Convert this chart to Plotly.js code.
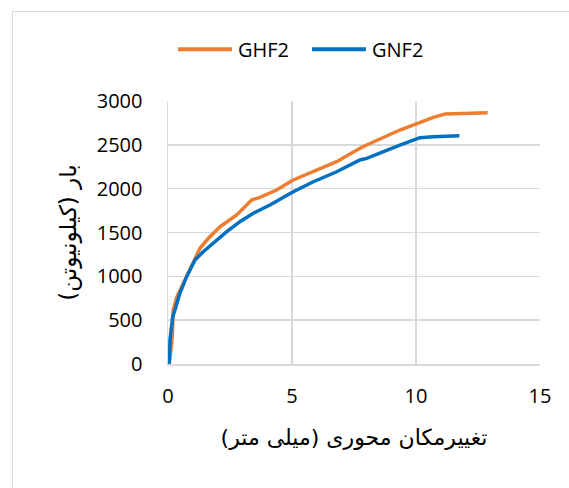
<!DOCTYPE html>
<html>
<head>
<meta charset="utf-8">
<script src="https://cdn.plot.ly/plotly-3.0.1.min.js"></script>
<style>
  html, body { margin:0; padding:0; background:#fff; overflow:hidden; }
  #chart { width:569px; height:488px; }
  #frame { position:absolute; left:12px; top:11px; width:620px; height:540px; border:1px solid #d9d9d9; pointer-events:none; }
</style>
</head>
<body>
<div id="chart"></div>
<div id="frame"></div>
<script>
// Data
const ghf2X = [0, 0.05, 0.15, 0.18, 0.21, 0.35, 0.62, 1.02, 1.29, 1.63, 2.10, 2.77, 3.37, 3.71, 4.38, 5.05, 5.86, 6.80, 7.74, 8.01, 9.35, 10.70, 11.17, 12.89];
const ghf2Y = [0, 8, 236, 350, 616, 760, 920, 1148, 1320, 1434, 1566, 1700, 1871, 1901, 1985, 2099, 2193, 2308, 2460, 2498, 2669, 2814, 2852, 2867];
const gnf2X = [0, 0.05, 0.08, 0.19, 0.28, 0.48, 0.75, 1.09, 1.42, 1.96, 2.37, 2.90, 3.44, 4.11, 5.05, 5.86, 6.80, 7.74, 8.01, 9.35, 10.16, 10.70, 11.75];
const gnf2Y = [0, 8, 274, 540, 616, 806, 996, 1186, 1281, 1414, 1509, 1623, 1719, 1814, 1965, 2079, 2193, 2327, 2346, 2498, 2582, 2593, 2604];
const seriesNames = ["GHF2", "GNF2"];
const seriesColors = ['#ED7D31', '#0070C0'];
const xTitle = "تغییرمکان محوری (میلی متر)";
const yTitle = "بار (کیلونیوتن)";

const traces = [
  {x: ghf2X, y: ghf2Y, name: seriesNames[0], type: 'scatter', mode: 'lines',
   line: {color: seriesColors[0], width: 3.5}},
  {x: gnf2X, y: gnf2Y, name: seriesNames[1], type: 'scatter', mode: 'lines',
   line: {color: seriesColors[1], width: 3.5}}
];

// Legend drawn at the top (long line samples as in the reference)
const legY = 1.197;
const legItems = [{x0: 0.027, x1: 0.172, tx: 0.183}, {x0: 0.387, x1: 0.532, tx: 0.543}];
const shapes = legItems.map((it, i) => ({
  type: 'line', xref: 'paper', yref: 'paper', x0: it.x0, x1: it.x1, y0: legY, y1: legY,
  line: {color: seriesColors[i], width: 4}
}));
const annotations = legItems.map((it, i) => ({
  xref: 'paper', yref: 'paper', x: it.tx, y: legY, xanchor: 'left', yanchor: 'middle',
  text: seriesNames[i], showarrow: false, font: {size: 20, color: '#000'}
}));

const gridC = '#d9d9d9';
const layout = {
  width: 569, height: 488,
  margin: {l: 168, r: 29, t: 101, b: 124},
  paper_bgcolor: '#fff', plot_bgcolor: '#fff',
  font: {family: 'Open Sans, sans-serif', size: 20, color: '#000'},
  showlegend: false,
  shapes: shapes,
  annotations: annotations,
  xaxis: {
    range: [0, 15], dtick: 5, tick0: 0,
    showgrid: true, gridcolor: gridC, gridwidth: 1.5,
    zeroline: false, showline: true, linecolor: gridC, linewidth: 1.5,
    ticks: 'outside', ticklen: 13, tickcolor: 'rgba(0,0,0,0)',
    tickfont: {size: 20, color: '#000'},
    title: {text: xTitle, font: {family: 'DejaVu Sans', size: 22, color: '#000'}, standoff: 22},
    automargin: false, fixedrange: true
  },
  yaxis: {
    range: [0, 3000], dtick: 500, tick0: 0,
    showgrid: true, gridcolor: gridC, gridwidth: 1.5,
    zeroline: false, showline: true, linecolor: gridC, linewidth: 1.5,
    ticks: 'outside', ticklen: 20, tickcolor: 'rgba(0,0,0,0)',
    tickfont: {size: 20, color: '#000'},
    title: {text: yTitle, font: {family: 'DejaVu Sans', size: 23, color: '#000'}, standoff: 13},
    automargin: false, fixedrange: true
  }
};

Plotly.newPlot('chart', traces, layout, {staticPlot: true, displayModeBar: false});
</script>
</body>
</html>
